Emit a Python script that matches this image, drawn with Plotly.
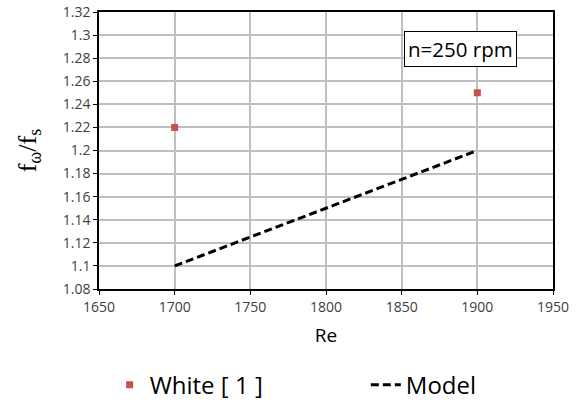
import plotly.graph_objects as go

re_white = [1700, 1900]
f_white = [1.22, 1.25]
re_model = [1700, 1900]
f_model = [1.10, 1.20]
x_ticks = [1650, 1700, 1750, 1800, 1850, 1900, 1950]
y_ticks = [1.08, 1.10, 1.12, 1.14, 1.16, 1.18, 1.20, 1.22, 1.24, 1.26, 1.28, 1.30, 1.32]
y_tick_labels = ["1.08", "1.1", "1.12", "1.14", "1.16", "1.18", "1.2", "1.22", "1.24", "1.26", "1.28", "1.3", "1.32"]

fig = go.Figure()
fig.add_trace(go.Scatter(x=re_white, y=f_white, mode="markers", name="White [ 1 ]",
                         marker=dict(symbol="square", size=7, color="#C8504D"), legend="legend"))
fig.add_trace(go.Scatter(x=re_model, y=f_model, mode="lines", name="Model",
                         line=dict(color="black", width=3, dash="8px,4px"), legend="legend2"))

fig.add_annotation(x=1889, y=1.2876, xref="x", yref="y", text="n=250 rpm", showarrow=False,
                   font=dict(family="Open Sans", size=20.5, color="black"),
                   bordercolor="black", borderwidth=1, bgcolor="white", borderpad=3)

axis_common = dict(showgrid=True, gridcolor="#BFBFBF", gridwidth=1.5, showline=True,
                   linecolor="black", linewidth=1.5, mirror=True, ticks="outside",
                   ticklen=4, tickcolor="black", zeroline=False, automargin=False,
                   tickfont=dict(family="Open Sans", size=14, color="#404040"))

fig.update_xaxes(range=[1650, 1950], tickvals=x_ticks,
                 title=dict(text="Re", font=dict(family="Open Sans", size=19, color="black"), standoff=14),
                 **axis_common)
fig.update_yaxes(range=[1.08, 1.32], tickvals=y_ticks, ticktext=y_tick_labels,
                 title=dict(text="f<sub>ω</sub>/f<sub>s</sub>", font=dict(family="Liberation Serif", size=26, color="black"), standoff=19),
                 **axis_common)

legend_font = dict(family="Open Sans", size=24, color="black")
fig.update_layout(width=577, height=402, margin=dict(l=99, r=24, t=12, b=113),
                  plot_bgcolor="white", paper_bgcolor="white",
                  legend=dict(orientation="h", xref="container", x=0.19, xanchor="left",
                              yref="container", y=0.042, yanchor="middle", font=legend_font),
                  legend2=dict(orientation="h", xref="container", x=0.634, xanchor="left",
                               yref="container", y=0.042, yanchor="middle", font=legend_font),
                  showlegend=True)

fig.write_html("out.html")
